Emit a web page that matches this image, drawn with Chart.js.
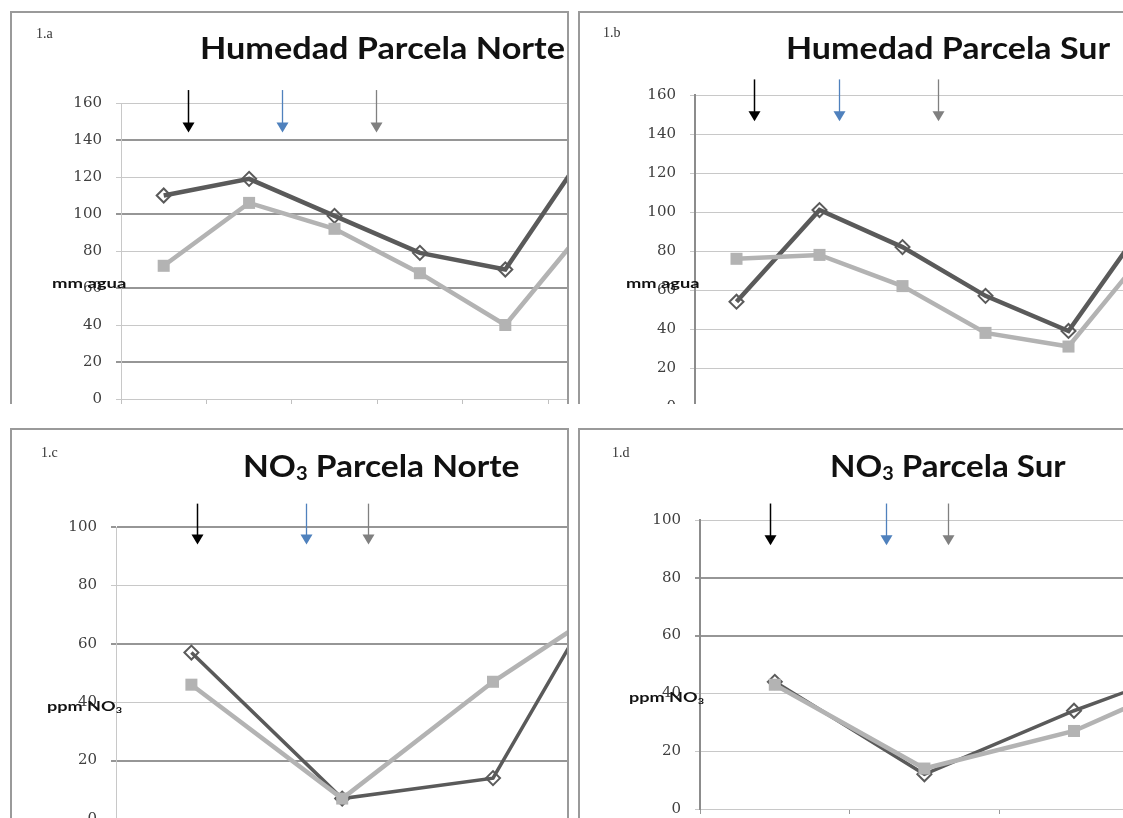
<!DOCTYPE html>
<html lang="es">
<head>
<meta charset="utf-8">
<title>Humedad y NO3 — Parcelas Norte y Sur</title>
<script src="https://cdn.jsdelivr.net/npm/chart.js@4.4.1/dist/chart.umd.min.js"></script>
<style>
  html, body { margin: 0; padding: 0; background: #fff; }
  body { width: 1123px; height: 818px; position: relative; overflow: hidden; }
  .clip  { position: absolute; overflow: hidden; }
  .frame { position: absolute; border: 2px solid #9a9a9a; box-sizing: border-box; pointer-events: none; }
  canvas { position: absolute; }
  .txt   { position: absolute; white-space: nowrap; transform-origin: 0 50%; }
  .tag   { font-family: 'Liberation Serif', serif; font-size: 14px; line-height: 14px; color: #333; }
  .title { font-family: Lato, sans-serif; font-weight: 700; font-size: 30px; line-height: 30px; color: #111; }
  .ytitle{ font-family: Lato, sans-serif; font-weight: 700; font-size: 14px; line-height: 14px; color: #111; }
  .sub   { font-size: 0.6em; position: relative; top: 0.18em; }
</style>
</head>
<body>
<script>
// ─── Datos ───────────────────────────────────────────────
// serie oscura (rombos) y serie clara (cuadrados), una por fecha de muestreo
const humNorteOscura = [110, 119, 99, 79, 70, 138];
const humNorteClara  = [72, 106, 92, 68, 40, 96];
const humSurOscura   = [54, 101, 82, 57, 39, 99];
const humSurClara    = [76, 78, 62, 38, 31, 83];
const no3NorteOscura = [57, 7, 14, 103];
const no3NorteClara  = [46, 7, 47, 81];
const no3SurOscura   = [44, 12, 34, 53];
const no3SurClara    = [43, 14, 27, 50];

const ticksHumedad = [0, 20, 40, 60, 80, 100, 120, 140, 160];
const ticksNO3     = [0, 20, 40, 60, 80, 100];

// flechas (posición en unidades de fecha): negra, azul, gris
const flechasHumNorte = [1.28, 2.38, 3.49];
const flechasHumSur   = [1.21, 2.24, 3.43];
const flechasNO3Norte = [1.04, 1.76, 2.17];
const flechasNO3Sur   = [0.97, 1.74, 2.16];
const coloresFlecha   = ['#000000', '#4f81bd', '#808080'];

// ─── Paneles ─────────────────────────────────────────────
const X_AXIS_H = 28;   // alto reservado bajo el área de trazado (queda fuera del recorte)

const panels = [
  { tag: '1.a', title: 'Humedad Parcela Norte', ytitle: 'mm agua',
    oscura: humNorteOscura, clara: humNorteClara, ticks: ticksHumedad, flechas: flechasHumNorte, flechaSpan: [167, 144],
    clip: { l: 0, t: 0, w: 572, h: 404 }, frame: { l: 10, t: 11, w: 559 },
    plot: { l: 121, t: 103, r: 567, b: 399 }, cat: 85.4,
    darkGrid: [20, 60, 100, 140], axis: ['#c8c8c8', 1], xTick: '#c0c0c0', lw: [4.5, 4.5],
    titlePos: { x: 200, base: 59, w: 365 }, tagPos: { x: 36, y: 34 }, yPos: { x: 52, y: 283, w: 74 } },
  { tag: '1.b', title: 'Humedad Parcela Sur', ytitle: 'mm agua',
    oscura: humSurOscura, clara: humSurClara, ticks: ticksHumedad, flechas: flechasHumSur, flechaSpan: [168, 146.5],
    clip: { l: 575, t: 0, w: 548, h: 404 }, frame: { l: 578, t: 11, w: 1000 },
    plot: { l: 695, t: 95, r: 1123, b: 407 }, cat: 83,
    darkGrid: [], axis: ['#8c8c8c', 2], xTick: '#999', lw: [4.5, 4.5],
    titlePos: { x: 786, base: 59, w: 324 }, tagPos: { x: 603, y: 33 }, yPos: { x: 626, y: 283, w: 73 } },
  { tag: '1.c', title: 'NO<span class="sub">3</span> Parcela Norte', ytitle: 'ppm NO<span class="sub">3</span>',
    oscura: no3NorteOscura, clara: no3NorteClara, ticks: ticksNO3, flechas: flechasNO3Norte, flechaSpan: [108, 94],
    clip: { l: 0, t: 420, w: 572, h: 398 }, frame: { l: 10, t: 428, w: 559 },
    plot: { l: 116, t: 527, r: 567, b: 819 }, cat: 150.8,
    darkGrid: [20, 60, 100], axis: ['#c8c8c8', 1], xTick: '#c0c0c0', lw: [3.5, 4.5],
    titlePos: { x: 243, base: 477, w: 277 }, tagPos: { x: 41, y: 453 }, yPos: { x: 47, y: 706, w: 75 } },
  { tag: '1.d', title: 'NO<span class="sub">3</span> Parcela Sur', ytitle: 'ppm NO<span class="sub">3</span>',
    oscura: no3SurOscura, clara: no3SurClara, ticks: ticksNO3, flechas: flechasNO3Sur, flechaSpan: [105.7, 91.3],
    clip: { l: 575, t: 420, w: 548, h: 398 }, frame: { l: 578, t: 428, w: 1000 },
    plot: { l: 700, t: 520, r: 1123, b: 809 }, cat: 149.6,
    darkGrid: [60, 80], axis: ['#8c8c8c', 2], xTick: '#999', lw: [3.5, 4.5],
    titlePos: { x: 830, base: 477, w: 236 }, tagPos: { x: 612, y: 453 }, yPos: { x: 629, y: 697, w: 75 } },
];

function toXY(arr) { return arr.map((v, i) => ({ x: i + 1, y: v })); }

function addText(cls, html, x, top, w) {
  const el = document.createElement('div');
  el.className = 'txt ' + cls;
  el.innerHTML = html;
  el.style.left = x + 'px';
  el.style.top = top + 'px';
  document.body.appendChild(el);
  if (w) el.style.transform = `scaleX(${(w / el.offsetWidth).toFixed(3)})`;
  return el;
}

function arrowPlugin(p) {
  return {
    id: 'flechas',
    afterDatasetsDraw(chart) {
      const { ctx, scales: { x, y } } = chart;
      const y0 = y.getPixelForValue(p.flechaSpan[0]);
      const y1 = y.getPixelForValue(p.flechaSpan[1]);
      p.flechas.forEach((xv, i) => {
        const px = Math.round(x.getPixelForValue(xv)) + 0.5;
        ctx.save();
        ctx.strokeStyle = ctx.fillStyle = coloresFlecha[i];
        ctx.lineWidth = i === 0 ? 1.5 : 1.3;
        ctx.beginPath(); ctx.moveTo(px, y0); ctx.lineTo(px, y1 - 8); ctx.stroke();
        ctx.beginPath();
        ctx.moveTo(px - 6, y1 - 10); ctx.lineTo(px + 6, y1 - 10); ctx.lineTo(px, y1);
        ctx.closePath(); ctx.fill();
        ctx.restore();
      });
    },
  };
}

function makePanel(p) {
  const clip = document.createElement('div');
  clip.className = 'clip';
  Object.assign(clip.style, { left: p.clip.l + 'px', top: p.clip.t + 'px', width: p.clip.w + 'px', height: p.clip.h + 'px' });
  document.body.appendChild(clip);

  const cl = p.frame.l + 2, ct = p.frame.t + 2;
  const cw = p.plot.r - cl, ch = p.plot.b + X_AXIS_H - ct;
  const cv = document.createElement('canvas');
  cv.width = cw; cv.height = ch;
  Object.assign(cv.style, { left: (cl - p.clip.l) + 'px', top: (ct - p.clip.t) + 'px', width: cw + 'px', height: ch + 'px' });
  clip.appendChild(cv);

  const fr = document.createElement('div');
  fr.className = 'frame';
  Object.assign(fr.style, { left: (p.frame.l - p.clip.l) + 'px', top: (p.frame.t - p.clip.t) + 'px', width: p.frame.w + 'px', height: '1000px' });
  clip.appendChild(fr);

  const xMax = 0.5 + (p.plot.r - p.plot.l) / p.cat;

  new Chart(cv, {
    type: 'line',
    data: {
      datasets: [
        {
          label: 'Clara',
          data: toXY(p.clara),
          borderColor: '#b3b3b3',
          borderWidth: p.lw[1],
          pointStyle: 'rect',
          pointRadius: 8.5,
          pointBackgroundColor: '#b3b3b3',
          pointBorderColor: '#b3b3b3',
          pointBorderWidth: 0,
          tension: 0,
          order: 0,
        },
        {
          label: 'Oscura',
          data: toXY(p.oscura),
          borderColor: '#5a5a5a',
          borderWidth: p.lw[0],
          pointStyle: 'rectRot',
          pointRadius: 7,
          pointBackgroundColor: 'rgba(255,255,255,0)',
          pointBorderColor: '#5a5a5a',
          pointBorderWidth: 2,
          tension: 0,
          order: 1,
        },
      ],
    },
    options: {
      responsive: false,
      animation: false,
      devicePixelRatio: 1,
      layout: { autoPadding: false, padding: { top: p.plot.t - ct, left: 0, right: 0, bottom: 0 } },
      plugins: { legend: { display: false }, tooltip: { enabled: false } },
      scales: {
        x: {
          type: 'linear',
          min: 0.5,
          max: xMax,
          afterBuildTicks: (s) => {
            const t = [];
            for (let v = 0.5; v <= s.max + 1e-6; v += 1) t.push({ value: v });
            s.ticks = t;
          },
          afterFit: (s) => { s.height = X_AXIS_H; },
          ticks: { callback: () => '' },
          grid: { drawOnChartArea: false, drawTicks: true, tickLength: 5, color: p.xTick, lineWidth: 1 },
          border: { display: false },
        },
        y: {
          min: 0,
          max: p.ticks[p.ticks.length - 1],
          afterBuildTicks: (s) => { s.ticks = p.ticks.map(v => ({ value: v })); },
          afterFit: (s) => { s.width = p.plot.l - cl; },
          ticks: { font: { family: 'DejaVu Serif', size: 15 }, color: '#404040', padding: 14 },
          grid: {
            tickLength: 5,
            color: (c) => p.darkGrid.includes(c.tick.value) ? '#969696' : '#c8c8c8',
            lineWidth: (c) => p.darkGrid.includes(c.tick.value) ? 2 : 1,
          },
          border: { display: true, color: p.axis[0], width: p.axis[1] },
        },
      },
    },
    plugins: [arrowPlugin(p)],
  });

  // textos
  addText('tag', p.tag, p.tagPos.x, p.tagPos.y - 7);
  addText('title', p.title, p.titlePos.x, p.titlePos.base - 27, p.titlePos.w);
  addText('ytitle', p.ytitle, p.yPos.x, p.yPos.y - 7, p.yPos.w);
}

panels.forEach(makePanel);
</script>
</body>
</html>
